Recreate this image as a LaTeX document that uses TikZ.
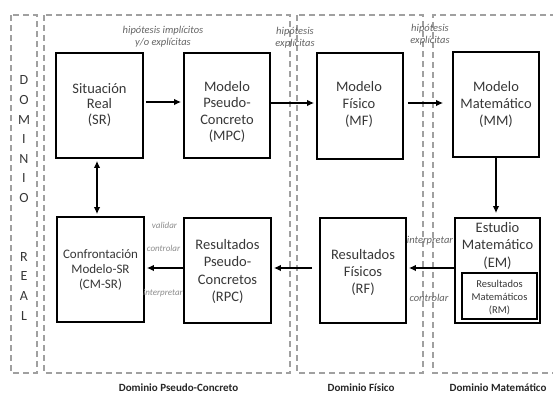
\documentclass[tikz,border=0pt]{standalone}
\usepackage{fontspec}
\setmainfont{Carlito}
\usetikzlibrary{arrows.meta}
\definecolor{txt}{RGB}{55,55,55}
\definecolor{dom}{RGB}{160,160,160}
\definecolor{lbl}{RGB}{100,100,100}
\definecolor{lbllight}{RGB}{140,140,140}
\tikzset{
 box/.style={draw=black, line width=1.7pt, inner sep=0pt},
 boxtext/.style={align=center, text=txt, inner sep=0pt, font=\fontsize{14.5}{17}\selectfont},
 dombox/.style={draw=dom, line width=1.3pt, dash pattern=on 6pt off 4pt},
 arr/.style={line width=1.6pt, -{Latex[length=7pt,width=6.5pt]}},
 hyp/.style={font=\fontsize{10.5}{12.5}\selectfont\itshape, text=lbl, align=center, inner sep=0pt},
 smalllbl/.style={font=\fontsize{9}{11}\selectfont\itshape, text=lbllight, inner sep=0pt},
 domlabel/.style={font=\fontsize{11}{13}\selectfont\bfseries, text=black!85, inner sep=0pt},
}
\begin{document}
\begin{tikzpicture}[x=1pt,y=-1pt]
\useasboundingbox (0,0) rectangle (553,394);
% domains
\draw[dombox] (11,15) rectangle (37,373);
\draw[dombox] (44,15) rectangle (290,373);
\draw[dombox] (297,15) rectangle (423,373);
\draw[dombox] (556,15) -- (433,15) -- (433,373) -- (556,373);
\node[align=center, inner sep=0pt, text=txt, font=\fontsize{14}{19.6}\selectfont] (dreal) at (24,198) {D\\O\\M\\I\\N\\I\\O\\~\\~\\R\\E\\A\\L};
% boxes
\node[box, minimum width=87pt, minimum height=105pt] (SR) at (99.5,105.5) {};
\node[box, minimum width=86pt, minimum height=105pt] (MPC) at (227,105.5) {};
\node[box, minimum width=86pt, minimum height=106pt] (MF) at (360,106) {};
\node[box, minimum width=86pt, minimum height=105pt] (MM) at (496,104.5) {};
\node[box, minimum width=87pt, minimum height=105pt] (CM) at (100.5,269.5) {};
\node[box, minimum width=87pt, minimum height=105pt] (RPC) at (227.5,270.5) {};
\node[box, minimum width=86pt, minimum height=105pt] (RF) at (363,270.5) {};
\node[box, minimum width=85pt, minimum height=105pt] (EM) at (497.5,270.5) {};
\node[box, line width=1.3pt, minimum width=75pt, minimum height=46pt] (RM) at (499.5,296) {};
% box texts
\node[boxtext, font=\fontsize{14.5}{15.5}\selectfont] (SRt) at (99.5,105) {Situación\\Real\\(SR)};
\node[boxtext, font=\fontsize{14.5}{16.5}\selectfont] (MPCt) at (227,112) {Modelo\\Pseudo-\\Concreto\\(MPC)};
\node[boxtext] (MFt) at (359,104) {Modelo\\Físico\\(MF)};
\node[boxtext] (MMt) at (496,104.5) {Modelo\\Matemático\\(MM)};
\node[boxtext, font=\fontsize{13}{15}\selectfont] (CMt) at (100.5,270) {Confrontación\\Modelo-SR\\(CM-SR)};
\node[boxtext, font=\fontsize{14.5}{17.5}\selectfont] (RPCt) at (227.5,271.5) {Resultados\\Pseudo-\\Concretos\\(RPC)};
\node[boxtext] (RFt) at (363,272) {Resultados\\Físicos\\(RF)};
\node[boxtext, font=\fontsize{14.5}{17.5}\selectfont] (EMt) at (497.5,245.5) {Estudio\\Matemático\\(EM)};
\node[boxtext, font=\fontsize{10.5}{13}\selectfont] (RMt) at (499.5,298) {Resultados\\Matemáticos\\(RM)};
% arrows
\draw[arr, shorten <=2pt, shorten >=2pt] ([yshift=3.5pt]SR.east) -- ([yshift=3.5pt]SR.east -| MPC.west);
\draw[arr, shorten >=2pt] ([yshift=2.5pt]MPC.east) -- ([yshift=2.5pt]MPC.east -| MF.west);
\draw[arr, shorten <=4pt, shorten >=9pt] ([yshift=3pt]MF.east) -- ([yshift=3pt]MF.east -| MM.west);
\draw[arr, shorten >=4pt] (MM.south) -- (MM.south |- EM.north);
\draw[arr, shorten >=2pt] ([yshift=2.5pt]EM.west) -- ([yshift=2.5pt]EM.west -| RF.east);
\draw[arr, shorten <=7pt, shorten >=2pt] ([yshift=2.5pt]RF.west) -- ([yshift=2.5pt]RF.west -| RPC.east);
\draw[arr, shorten >=2pt] ([yshift=2.5pt]RPC.west) -- ([yshift=2.5pt]RPC.west -| CM.east);
\draw[line width=1.6pt, {Latex[length=7pt,width=6.5pt]}-{Latex[length=7pt,width=6.5pt]}, shorten <=2pt, shorten >=2pt] ([xshift=-2.5pt]SR.south) -- ([xshift=-2.5pt]SR.south |- CM.north);
% labels
\node[hyp] (h1) at (163,36.5) {hipótesis implícitos\\y/o explícitas};
\node[hyp] (h2) at (295,37.5) {hipótesis\\explícitas};
\node[hyp] (h3) at (430,34.5) {hipótesis\\explícitas};
\node[smalllbl] (v1) at (164.5,225) {validar};
\node[smalllbl] (c1) at (163.5,248) {controlar};
\node[smalllbl] (i1) at (163,293) {interpretar};
\node[hyp] (i2) at (430,240.5) {interpretar};
\node[hyp] (c2) at (429,297.5) {controlar};
\node[domlabel] (d1) at (178.5,387.5) {Dominio Pseudo-Concreto};
\node[domlabel] (d2) at (361,387.5) {Dominio Físico};
\node[domlabel] (d3) at (498,387.5) {Dominio Matemático};
\end{tikzpicture}
\end{document}
